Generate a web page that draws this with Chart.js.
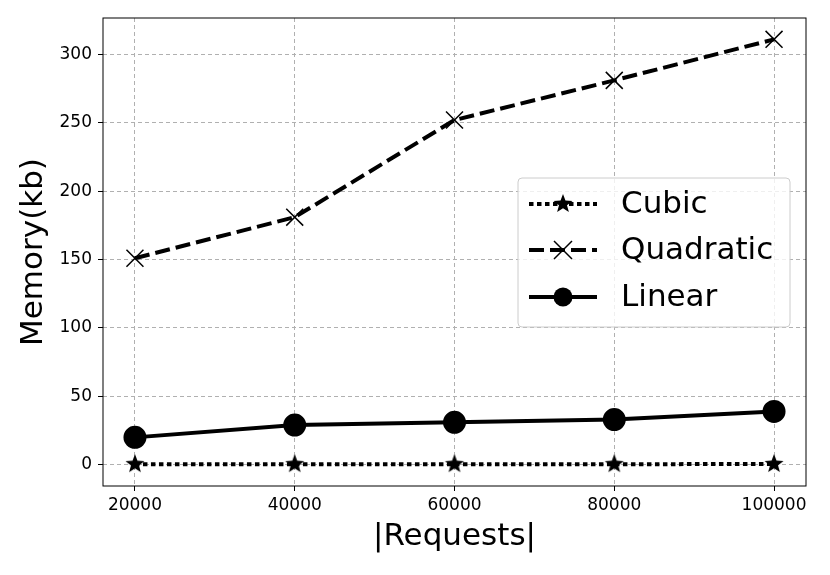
<!DOCTYPE html>
<html><head><meta charset="utf-8">
<script src="https://cdn.jsdelivr.net/npm/chart.js@4"></script>
<style>html,body{margin:0;padding:0;background:#fff}#wrap{width:830px;height:575px}</style>
</head><body><div id="wrap"><canvas id="c" width="830" height="575"></canvas></div>
<script>
const requests = [20000, 40000, 60000, 80000, 100000];
const cubic = [0.4, 0.4, 0.4, 0.4, 0.5];
const quadratic = [151, 181, 252, 281, 311];
const linear = [20, 29, 31, 33, 39];
const xTicks = [20000, 40000, 60000, 80000, 100000];
const yTicks = [0, 50, 100, 150, 200, 250, 300];
const seriesNames = ['Cubic', 'Quadratic', 'Linear'];

function starImage(r) {
  const c = document.createElement('canvas');
  c.width = c.height = r * 2 + 2;
  const g = c.getContext('2d');
  g.translate(r + 1, r + 1);
  g.beginPath();
  for (let i = 0; i < 10; i++) {
    const rad = i % 2 === 0 ? r : r * 0.42;
    const a = -Math.PI / 2 + i * Math.PI / 5;
    g.lineTo(rad * Math.cos(a), rad * Math.sin(a));
  }
  g.closePath();
  g.fillStyle = '#000';
  g.fill();
  return c;
}
const star = starImage(10);
const FONT = "'DejaVu Sans', sans-serif";

const pts = a => requests.map((x, i) => ({x, y: a[i]}));

const legendPlugin = {
  id: 'boxLegend',
  afterDraw(chart) {
    const g = chart.ctx;
    const x0 = 518, y0 = 178, w = 272, h = 149, r = 4;
    g.save();
    g.beginPath();
    g.moveTo(x0 + r, y0); g.arcTo(x0 + w, y0, x0 + w, y0 + h, r);
    g.arcTo(x0 + w, y0 + h, x0, y0 + h, r); g.arcTo(x0, y0 + h, x0, y0, r);
    g.arcTo(x0, y0, x0 + w, y0, r); g.closePath();
    g.fillStyle = 'rgba(255,255,255,0.8)'; g.fill();
    g.strokeStyle = '#cccccc'; g.lineWidth = 1; g.stroke();
    const rows = [204, 250, 297];
    chart.data.datasets.forEach((ds, i) => {
      const y = rows[i];
      g.beginPath();
      g.setLineDash(ds.borderDash || []);
      g.lineWidth = ds.borderWidth; g.strokeStyle = '#000';
      g.moveTo(529, y); g.lineTo(597, y); g.stroke();
      g.setLineDash([]);
      const cx = 563;
      if (i === 0) g.drawImage(star, cx - star.width / 2, y - star.height / 2);
      else if (i === 1) {
        g.lineWidth = 1.5; g.beginPath();
        g.moveTo(cx - 9, y - 9); g.lineTo(cx + 9, y + 9);
        g.moveTo(cx + 9, y - 9); g.lineTo(cx - 9, y + 9); g.stroke();
      } else {
        g.beginPath(); g.arc(cx, y, 9.5, 0, Math.PI * 2); g.fillStyle = '#000'; g.fill();
      }
      g.fillStyle = '#000'; g.font = '31px ' + FONT; g.textBaseline = 'middle';
      g.fillText(ds.label, 621, y + 1);
    });
    g.restore();
  }
};

const frame = {
  id: 'frame',
  afterDatasetsDraw(chart) {
    const a = chart.chartArea, g = chart.ctx;
    g.save(); g.strokeStyle = '#000'; g.lineWidth = 1;
    g.strokeRect(a.left, a.top, a.right - a.left, a.bottom - a.top);
    g.restore();
  }
};

new Chart(document.getElementById('c'), {
  type: 'line',
  data: {
    datasets: [
      {label: seriesNames[0], data: pts(cubic), borderColor: '#000', backgroundColor: '#000',
       borderWidth: 4, borderDash: [4.5, 3.5], pointStyle: star, pointRadius: 10},
      {label: seriesNames[1], data: pts(quadratic), borderColor: '#000', backgroundColor: '#000',
       borderWidth: 4, borderDash: [15, 6], pointStyle: 'crossRot', pointRadius: 12,
       pointBorderWidth: 1.5},
      {label: seriesNames[2], data: pts(linear), borderColor: '#000', backgroundColor: '#000',
       borderWidth: 4, pointStyle: 'circle', pointRadius: 9.5}
    ]
  },
  options: {
    responsive: false, animation: false,
    layout: {padding: {left: 0, right: 24, top: 18, bottom: 0}},
    plugins: {legend: {display: false}, tooltip: {enabled: false}},
    scales: {
      x: {
        type: 'linear', min: 16000, max: 104000,
        afterBuildTicks: s => { s.ticks = xTicks.map(v => ({value: v})); },
        afterFit: s => { s.height = 89; },
        grid: {color: '#b0b0b0', tickColor: '#000', tickLength: 5, lineWidth: 1},
        border: {display: false, dash: [4, 3]},
        ticks: {color: '#000', font: {family: FONT, size: 17}, padding: 4, maxRotation: 0,
                callback: v => String(v)},
        title: {display: true, text: '|Requests|', color: '#000', font: {family: FONT, size: 31}, padding: {top: 0, bottom: 19}}
      },
      y: {
        min: -15.55, max: 326.6,
        afterBuildTicks: s => { s.ticks = yTicks.map(v => ({value: v})); },
        afterFit: s => { s.width = 103; },
        grid: {color: '#b0b0b0', tickColor: '#000', tickLength: 5, lineWidth: 1},
        border: {display: false, dash: [4, 3]},
        ticks: {color: '#000', font: {family: FONT, size: 17}, padding: 6},
        title: {display: true, text: 'Memory(kb)', color: '#000', font: {family: FONT, size: 31}, padding: {top: 15, bottom: 0}}
      }
    }
  },
  plugins: [frame, legendPlugin]
});
</script></body></html>
